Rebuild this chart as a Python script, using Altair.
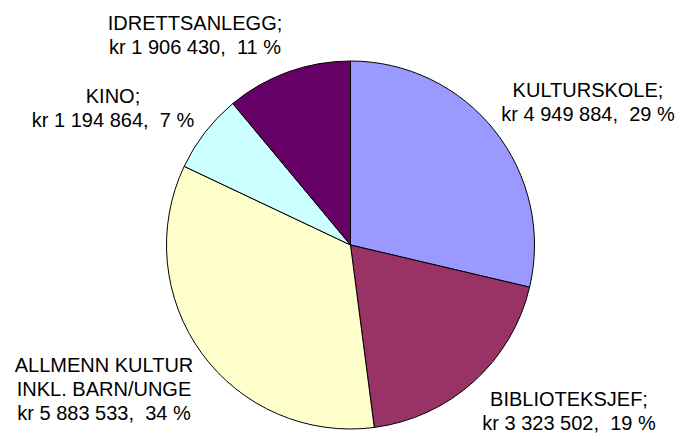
import altair as alt
import pandas as pd

# Data
categories = ["KULTURSKOLE", "BIBLIOTEKSJEF", "ALLMENN KULTUR INKL. BARN/UNGE", "KINO", "IDRETTSANLEGG"]
label_names = [["KULTURSKOLE;"], ["BIBLIOTEKSJEF;"], ["ALLMENN KULTUR", "INKL. BARN/UNGE"], ["KINO;"], ["IDRETTSANLEGG;"]]
values = [4949884, 3323502, 5883533, 1194864, 1906430]
colors = ["#9999FF", "#993366", "#FFFFCC", "#CCFFFF", "#660066"]

total = sum(values)
df = pd.DataFrame({
    "cat": categories,
    "value": values,
    "idx": list(range(len(categories))),
})

W, H = 669, 425
CX, CY, R = 342.5, 237, 184

pie = alt.Chart(df).mark_arc(
    stroke="black", strokeWidth=1, outerRadius=R
).encode(
    theta=alt.Theta("value:Q", stack=True),
    order=alt.Order("idx:Q"),
    color=alt.Color("cat:N", scale=alt.Scale(domain=categories, range=colors), legend=None),
    x=alt.value(CX),
    y=alt.value(CY),
)

def fmt(v):
    return f"{v:,}".replace(",", " ")

# label layout (center x, first-line baseline y) in chart coordinates
label_pos = [(580, 89), (561, 398), (96, 364), (105, 95), (187, 22)]

layers = [pie]
dummy = pd.DataFrame({"a": [0]})
for name_lines, v, (lx, ly) in zip(label_names, values, label_pos):
    pct = round(v / total * 100)
    lines = name_lines + [f"kr {fmt(v)},\u00a0 {pct} %"]
    layers.append(
        alt.Chart(dummy).mark_text(
            text=lines, align="center", baseline="alphabetic",
            font="Liberation Sans", fontSize=20, lineHeight=24, color="black"
        ).encode(x=alt.value(lx), y=alt.value(ly))
    )

chart = alt.layer(*layers).properties(
    width=W, height=H, padding=0, autosize=alt.AutoSizeParams(type="none")
).configure_view(strokeWidth=0)

chart.save("out.html", embed_options={"renderer": "svg", "actions": False})
